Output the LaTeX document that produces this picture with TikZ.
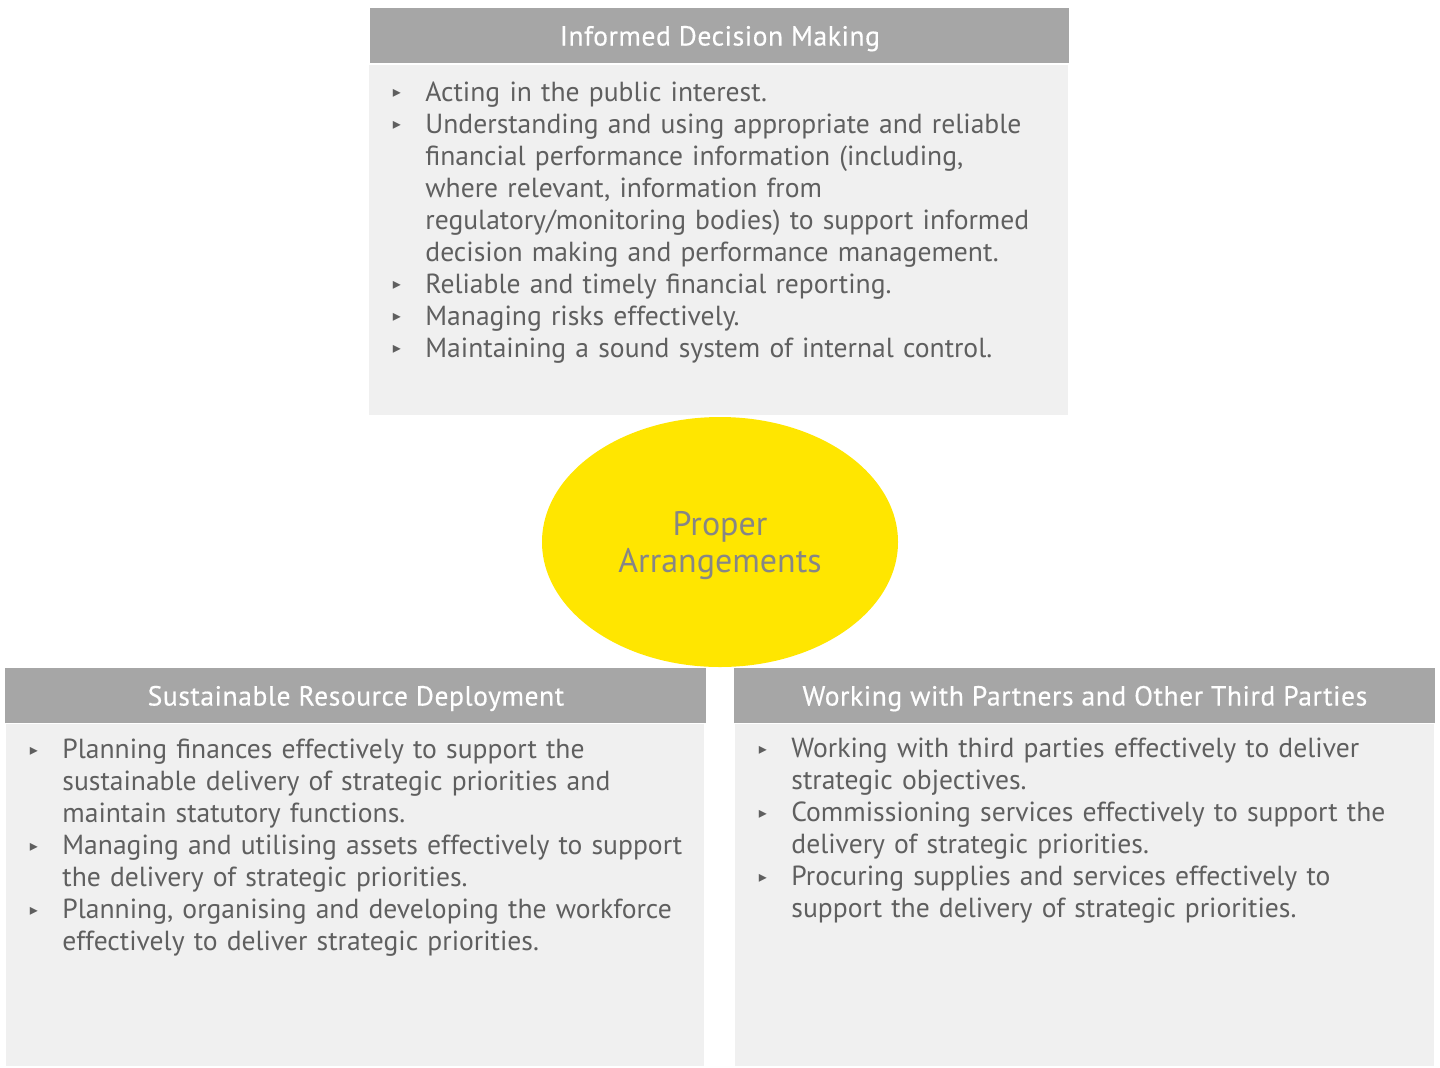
\documentclass[tikz,border=0pt]{standalone}
\usepackage{fontspec}
\setmainfont{PT Sans}
\newfontfamily\hdrfont[LetterSpace=2,FakeBold=0.4]{PT Sans}
\newfontfamily\bulfont{DejaVu Sans}
\usetikzlibrary{positioning,shapes.geometric}
\definecolor{hdrgray}{HTML}{A6A6A6}
\definecolor{panel}{HTML}{F0F0F0}
\definecolor{eyyellow}{HTML}{FFE600}
\definecolor{bodyink}{HTML}{5F5F5F}
\definecolor{corefg}{HTML}{868686}
\newcommand\bitem{\leavevmode\llap{\raisebox{1.6pt}{\bulfont\fontsize{8}{8}\selectfont ▸}\hspace{12.3pt}}}
\tikzset{
  hdr/.style={fill=hdrgray, text=white, minimum width=#1, minimum height=27.5pt,
    inner sep=0pt, anchor=north west, text height=9.6pt, text depth=0pt,
    font=\hdrfont\fontsize{13.8}{16}\selectfont},
  panelbox/.style={fill=panel, minimum width=#1, inner sep=0pt, anchor=north west},
  items/.style={text=bodyink, text width=#1, align=left, inner sep=0pt, anchor=base west,
    font=\fontsize{13.8}{16}\selectfont},
  core/.style={ellipse, fill=eyyellow, minimum width=178pt, minimum height=125pt, inner sep=0pt},
  coretxt/.style={text=corefg, align=center, font=\fontsize{17}{18.5}\selectfont, anchor=base},
}

\begin{document}
\begin{tikzpicture}[x=0.5pt,y=-0.5pt]
  \useasboundingbox (0,0) rectangle (1440,1067);
  % centre
  \node[core] (proper) at (720,542) {};
  \node[coretxt] (propertxt) at (720,572) {Proper\\Arrangements};
  % top
  \node[hdr=349.5pt] (idmhead) at (370,8) {Informed Decision Making};
  \node[panelbox=349.5pt, minimum height=175pt] (idmpanel) at (369,65) {};
  \node[items=340pt] (idmlist) at (425,101) {\bitem Acting in the public interest.\\
    \bitem Understanding and using appropriate and reliable\\
    financial performance information (including,\\
    where relevant, information from\\
    regulatory/monitoring bodies) to support informed\\
    decision making and performance management.\\
    \bitem Reliable and timely financial reporting.\\
    \bitem Managing risks effectively.\\
    \bitem Maintaining a sound system of internal control.};
  % bottom left
  \node[hdr=350.5pt] (srdhead) at (5,668) {Sustainable Resource Deployment};
  \node[panelbox=349pt, minimum height=171pt] (srdpanel) at (6,724) {};
  \node[items=340pt] (srdlist) at (62,758.5) {\bitem Planning finances effectively to support the\\
    sustainable delivery of strategic priorities and\\
    maintain statutory functions.\\
    \bitem Managing and utilising assets effectively to support\\
    the delivery of strategic priorities.\\
    \bitem Planning, organising and developing the workforce\\
    effectively to deliver strategic priorities.};
  % bottom right
  \node[hdr=350.5pt] (wpthead) at (734,668) {Working with Partners and Other Third Parties};
  \node[panelbox=349.5pt, minimum height=171pt] (wptpanel) at (735,724) {};
  \node[items=340pt] (wptlist) at (791,757.5) {\bitem Working with third parties effectively to deliver\\
    strategic objectives.\\
    \bitem Commissioning services effectively to support the\\
    delivery of strategic priorities.\\
    \bitem Procuring supplies and services effectively to\\
    support the delivery of strategic priorities.};
\end{tikzpicture}
\end{document}
